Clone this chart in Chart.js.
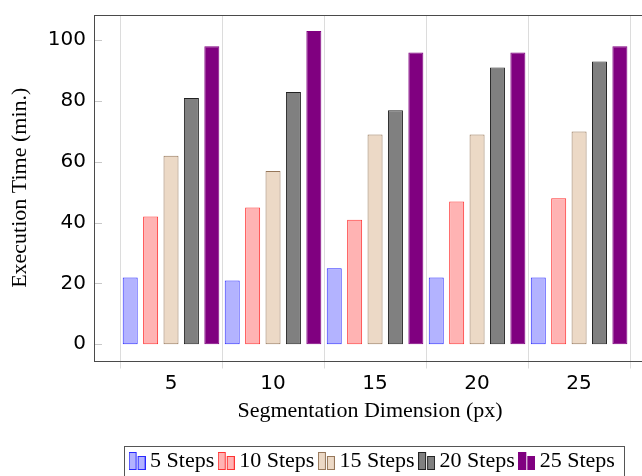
<!DOCTYPE html>
<html><head><meta charset="utf-8">
<script src="https://cdn.jsdelivr.net/npm/chart.js@4"></script>
<style>
html,body{margin:0;padding:0;overflow:hidden;background:#fff;width:642px;height:476px}
#wrap{width:800px;height:490px;position:relative}
</style>
</head><body><div id="wrap"><canvas id="c" width="800" height="490"></canvas></div>
<script>
// ---- data ----
const categories = [5, 10, 15, 20, 25];
const xTickLabels = ['5', '10', '15', '20', '25'];
const seriesNames = ['5 Steps', '10 Steps', '15 Steps', '20 Steps', '25 Steps'];
const steps5  = [22, 21, 25, 22, 22];
const steps10 = [42, 45, 41, 47, 48];
const steps15 = [62, 57, 69, 69, 70];
const steps20 = [81, 83, 77, 91, 93];
const steps25 = [98, 103, 96, 96, 98];
const yTicks = [0, 20, 40, 60, 80, 100];

// ---- styles ----
const fills   = ['#b3b3ff', '#ffb3b3', '#ecd9c6', '#808080', '#800080'];
const borders = ['#2a2aff', '#ff3333', '#96775a', '#222222', '#800080'];
const SERIF = '"Liberation Serif", "Times New Roman", serif';
const SANS = '"DejaVu Sans", sans-serif';
const X_MIN = 1.2255, X_MAX = 28.28;

function legendIcon(fill, stroke) {
  const c = document.createElement('canvas');
  c.width = 17; c.height = 18;
  const g = c.getContext('2d');
  g.fillStyle = fill; g.strokeStyle = stroke; g.lineWidth = 1;
  g.fillRect(0.5, 0.5, 7, 17); g.strokeRect(0.5, 0.5, 7, 17);
  g.fillRect(9.5, 4.5, 7, 13); g.strokeRect(9.5, 4.5, 7, 13);
  return c;
}

const seriesValues = [steps5, steps10, steps15, steps20, steps25];
const step = categories[1] - categories[0];
const boundaries = categories.map(c => c - step / 2).concat([categories[categories.length - 1] + step / 2]);

const datasets = seriesNames.map((name, i) => ({
  label: name,
  data: categories.map((c, j) => ({ x: c, y: seriesValues[i][j] })),
  backgroundColor: fills[i],
  borderColor: borders[i],
  borderWidth: 1,
  borderSkipped: false,
  pointStyle: legendIcon(fills[i], borders[i]),
  categoryPercentage: 1.0,
  barPercentage: 0.735
}));

const framePlugin = {
  id: 'frame',
  beforeDatasetsDraw(chart) {
    const { ctx, chartArea: a, scales } = chart;
    ctx.save();
    ctx.strokeStyle = '#c8c8c8'; ctx.lineWidth = 1;
    yTicks.forEach(v => {
      const y = Math.round(scales.y.getPixelForValue(v)) + 0.5;
      ctx.beginPath(); ctx.moveTo(a.left, y); ctx.lineTo(a.left + 8, y); ctx.stroke();
    });
    ctx.restore();
  },
  afterDatasetsDraw(chart) {
    const { ctx, chartArea: a } = chart;
    ctx.save();
    ctx.strokeStyle = '#4a4a4a'; ctx.lineWidth = 1;
    const l = Math.round(a.left) + 0.5, t = Math.round(a.top) + 0.5, b = Math.round(a.bottom) + 0.5;
    const r = Math.round(a.right) + 0.5;
    ctx.strokeRect(l, t, r - l, b - t);
    ctx.restore();
  },
  afterDraw(chart) {
    const lg = chart.legend;
    if (!lg || !lg.legendHitBoxes || !lg.legendHitBoxes.length) return;
    const hb = lg.legendHitBoxes;
    const first = hb[0], last = hb[hb.length - 1];
    const cy = first.top + first.height / 2;
    const left = Math.round(first.left - 11) + 0.5;
    const right = Math.round(last.left + last.width + 9) + 0.5;
    const top = Math.round(cy - 15) + 0.5;
    const ctx = chart.ctx;
    ctx.save();
    ctx.strokeStyle = '#555555'; ctx.lineWidth = 1;
    ctx.strokeRect(left, top, right - left, 40);
    ctx.restore();
  }
};

new Chart(document.getElementById('c'), {
  type: 'bar',
  data: { datasets },
  plugins: [framePlugin],
  options: {
    responsive: false,
    animation: false,
    devicePixelRatio: 1,
    layout: { padding: { left: 0, right: 50, top: 15, bottom: 8 } },
    plugins: {
      tooltip: { enabled: false },
      legend: {
        position: 'bottom',
        labels: {
          usePointStyle: true,
          pointStyleWidth: 4,
          padding: 10,
          color: '#000',
          font: { family: SERIF, size: 22 }
        }
      }
    },
    scales: {
      xg: {
        type: 'linear', position: 'bottom', weight: 0,
        min: X_MIN, max: X_MAX, offset: false,
        afterBuildTicks: s => { s.ticks = boundaries.map(v => ({ value: v })); },
        border: { display: false },
        grid: { color: '#dcdcdc', tickLength: 8, lineWidth: 1, offset: false },
        ticks: { display: false }
      },
      x: {
        type: 'linear', position: 'bottom', weight: 1,
        min: X_MIN, max: X_MAX, offset: false,
        afterBuildTicks: s => { s.ticks = categories.map(v => ({ value: v })); },
        afterFit: s => {
          const lh = s.chart.legend ? s.chart.legend.height : 0;
          s.height = s.chart.height - 8 - lh - 360.5 - 8;
        },
        border: { display: false },
        grid: { display: false, drawTicks: false, offset: false },
        ticks: {
          autoSkip: false, maxRotation: 0, padding: 3, color: '#000',
          font: { family: SANS, size: 20 },
          callback: v => { const i = categories.indexOf(v); return i >= 0 ? xTickLabels[i] : ''; }
        },
        title: {
          display: true, text: 'Segmentation Dimension (px)', color: '#000',
          font: { family: SERIF, size: 22 }, padding: { top: 0, bottom: 16 }
        }
      },
      y: {
        type: 'linear',
        min: -5.33,
        max: 108.3,
        afterBuildTicks: s => { s.ticks = yTicks.map(v => ({ value: v })); },
        afterFit: s => { s.width = 94; },
        border: { display: false },
        grid: { display: false, drawTicks: true, tickLength: 8 },
        ticks: { padding: 0, color: '#000', font: { family: SANS, size: 20 } },
        title: {
          display: true, text: 'Execution Time (min.)', color: '#000',
          font: { family: SERIF, size: 22 }, padding: { top: 7, bottom: 0 }
        }
      },
      pad: {
        type: 'linear', position: 'right', display: true,
        border: { display: false },
        grid: { display: false, drawTicks: false },
        ticks: { display: false },
        afterFit: s => { s.width = 104; }
      }
    }
  }
});
</script>
</body></html>
